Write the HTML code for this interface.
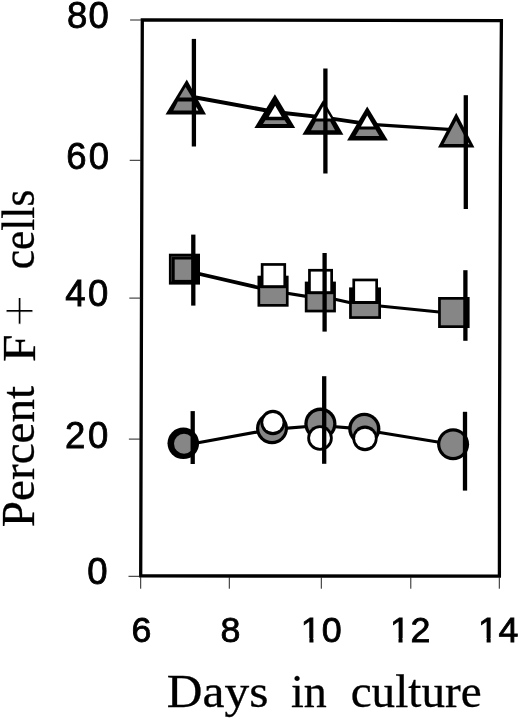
<!DOCTYPE html>
<html lang="en">
<head>
<meta charset="utf-8">
<title>Percent F + cells vs Days in culture</title>
<style>
html,body{margin:0;padding:0;background:#fff;}
body{width:520px;height:719px;overflow:hidden;}
svg{display:block;}
.sans{font-family:"Liberation Sans",Arial,Helvetica,sans-serif;fill:#000;}
.serif{font-family:"Liberation Serif","Times New Roman",Times,serif;fill:#000;}
</style>
</head>
<body>
<svg width="520" height="719" viewBox="0 0 520 719">
<rect x="0" y="0" width="520" height="719" fill="#ffffff"/>

<g id="frame" stroke="#000" fill="none">
<path d="M142.3 19.9 L501.4 20.7 L500.5 150 L499.9 310 L499.5 440 L499.4 576.2 L140.7 575.9 Z" stroke-width="3.3" stroke-linejoin="miter"/>
<line x1="130.1" y1="20.0" x2="141.3" y2="20.0" stroke-width="1" stroke="#222"/>
<line x1="129.7" y1="160.3" x2="140.9" y2="160.3" stroke-width="1" stroke="#222"/>
<line x1="129.3" y1="298.1" x2="140.5" y2="298.1" stroke-width="1" stroke="#222"/>
<line x1="128.9" y1="439.1" x2="140.1" y2="439.1" stroke-width="1" stroke="#222"/>
<line x1="128.5" y1="576.3" x2="139.7" y2="576.3" stroke-width="1" stroke="#222"/>
<line x1="140.7" y1="577" x2="140.7" y2="588.7" stroke-width="1" stroke="#222"/>
<line x1="229.3" y1="577" x2="229.3" y2="588.7" stroke-width="1" stroke="#222"/>
<line x1="321.3" y1="577" x2="321.3" y2="588.7" stroke-width="1" stroke="#222"/>
<line x1="410.8" y1="577" x2="410.8" y2="588.7" stroke-width="1" stroke="#222"/>
<line x1="499.3" y1="577" x2="499.3" y2="588.7" stroke-width="1" stroke="#222"/>
</g>
<text class="sans" font-size="36.5" stroke="#000" stroke-width="0.8" text-anchor="middle" y="28.1"><tspan x="77.25">8</tspan><tspan x="98.75">0</tspan></text>
<text class="sans" font-size="36.5" stroke="#000" stroke-width="0.8" text-anchor="middle" y="168.5"><tspan x="76.4">6</tspan><tspan x="99.0">0</tspan></text>
<text class="sans" font-size="36.5" stroke="#000" stroke-width="0.8" text-anchor="middle" y="306.4"><tspan x="75.45">4</tspan><tspan x="98.2">0</tspan></text>
<text class="sans" font-size="36.5" stroke="#000" stroke-width="0.8" text-anchor="middle" y="447.8"><tspan x="75.1">2</tspan><tspan x="98.1">0</tspan></text>
<text class="sans" font-size="36.5" stroke="#000" stroke-width="0.8" text-anchor="middle" y="584.3"><tspan x="97.5">0</tspan></text>
<text class="sans" font-size="35.8" stroke="#000" stroke-width="0.8" text-anchor="middle" y="642.3"><tspan x="141.5">6</tspan></text>
<text class="sans" font-size="35.8" stroke="#000" stroke-width="0.8" text-anchor="middle" y="642.3"><tspan x="230.4">8</tspan></text>
<text class="sans" font-size="35.8" stroke="#000" stroke-width="0.8" text-anchor="middle" y="642.3"><tspan x="310.8">1</tspan><tspan x="331.7">0</tspan></text>
<rect x="302.37" y="638.03" width="7.03" height="5.67" fill="#fff"/>
<rect x="313.46" y="638.03" width="6.75" height="5.67" fill="#fff"/>
<text class="sans" font-size="35.8" stroke="#000" stroke-width="0.8" text-anchor="middle" y="642.3"><tspan x="399.9">1</tspan><tspan x="420.35">2</tspan></text>
<rect x="391.47" y="638.03" width="7.03" height="5.67" fill="#fff"/>
<rect x="402.56" y="638.03" width="6.75" height="5.67" fill="#fff"/>
<text class="sans" font-size="35.8" stroke="#000" stroke-width="0.8" text-anchor="middle" y="642.3"><tspan x="488.0">1</tspan><tspan x="508.5">4</tspan></text>
<rect x="479.57" y="638.03" width="7.03" height="5.67" fill="#fff"/>
<rect x="490.66" y="638.03" width="6.75" height="5.67" fill="#fff"/>
<text class="serif" font-size="46" stroke="#000" stroke-width="0.3" transform="translate(166.8 706.8) scale(1.075 1)" x="0" y="0">Days</text>
<text class="serif" font-size="46" stroke="#000" stroke-width="0.3" transform="translate(291 706.8) scale(1.0 1)" x="0" y="0">in</text>
<text class="serif" font-size="46" stroke="#000" stroke-width="0.3" transform="translate(350.7 706.8) scale(1.025 1)" x="0" y="0">culture</text>
<text class="serif" font-size="46" stroke="#000" stroke-width="0.3" transform="translate(34 527.2) rotate(-90) scale(1.025 1.0)" x="0" y="0">Percent</text>
<text class="serif" font-size="46" stroke="#000" stroke-width="0.3" transform="translate(35 362) rotate(-90) scale(1.08 1.0)" x="0" y="0">F</text>
<text class="serif" font-size="46" stroke="#fff" stroke-width="0.8" transform="translate(38.8 327.2) rotate(-90) scale(1.26 1.26)" x="0" y="0">+</text>
<text class="serif" font-size="46" stroke="#000" stroke-width="0.3" transform="translate(34.3 269.3) rotate(-90) scale(0.945 1.0)" x="0" y="0">cells</text>
<g id="lines" fill="none" stroke="#000" stroke-linecap="round">
<line x1="193" y1="97" x2="275" y2="112" stroke-width="4.1"/>
<line x1="275" y1="112" x2="323" y2="117.3" stroke-width="3.8"/>
<line x1="323" y1="117.3" x2="367" y2="123.9" stroke-width="3.8"/>
<line x1="367" y1="124.2" x2="456" y2="129.8" stroke-width="3.2"/>
<line x1="184.5" y1="270.5" x2="273" y2="291" stroke-width="3.8"/>
<line x1="273" y1="291" x2="320.4" y2="298.6" stroke-width="3.2"/>
<line x1="320.4" y1="296" x2="365" y2="306" stroke-width="3.2"/>
<line x1="365" y1="304.4" x2="454" y2="313.6" stroke-width="3.0"/>
<line x1="183" y1="445.5" x2="272" y2="429.3" stroke-width="3.2"/>
<line x1="272" y1="429.3" x2="320" y2="425.5" stroke-width="3.2"/>
<line x1="320" y1="425.5" x2="364.5" y2="429.2" stroke-width="3.2"/>
<line x1="364.5" y1="430" x2="453" y2="444.6" stroke-width="3.0"/>
</g>
<g id="tri">
<polygon points="186.8,79.6 165.5,114.5 206,114.5" fill="#000"/>
<polygon points="185.6,87 179.3,97.6 192,97.6" fill="#868686"/>
<polygon points="177.9,101.4 192,101.4 192,110.5 173.3,110.5" fill="#868686"/>
<polygon points="196.2,106.7 196.2,110.6 198.3,110.6" fill="#fff"/>
<polygon points="274.9,94.3 254.4,128 295.2,128" fill="#000"/>
<polygon points="275.2,105.8 268.75,116.7 281.7,116.7" fill="#fff"/>
<polygon points="265.4,120.2 284.6,120.2 287,124 263,124" fill="#868686"/>
<polygon points="323.2,100 302.4,134.8 343.4,134.8" fill="#000"/>
<polygon points="323.3,106 316.1,118.6 331.3,118.6" fill="#fff"/>
<polygon points="315.8,121.4 330.2,121.4 335,130.3 311,130.3" fill="#868686"/>
<polygon points="367.2,106.6 347.1,140.6 387.9,140.6" fill="#000"/>
<polygon points="367.2,115.4 361,126.4 373.7,126.4" fill="#fff"/>
<polygon points="359.3,129.6 375.5,129.6 379.3,136.1 355.5,136.1" fill="#868686"/>
<polygon points="456.2,112.8 438,147.5 474.4,147.5" fill="#000"/>
<polygon points="456.2,120.5 443.6,143.9 464.5,143.9 464.5,136" fill="#868686"/>
<polygon points="468.3,142.3 468.3,144.2 469.4,144.2" fill="#fff"/>
</g>
<g id="sq">
<rect x="168.9" y="253.7" width="31.1" height="30.9" fill="#000"/>
<rect x="174.7" y="259.5" width="19.3" height="20.4" fill="#868686"/>
<path d="M171.4 281.5 V256.6 H191" fill="none" stroke="#555" stroke-width="0.6"/>
<rect x="257.5" y="275.7" width="31.1" height="31.0" fill="#000"/>
<rect x="260.2" y="288.0" width="25.7" height="16.0" fill="#868686"/>
<rect x="260.8" y="263.1" width="25.3" height="25.1" fill="#000"/>
<rect x="263.5" y="265.8" width="19.9" height="19.4" fill="#fff"/>
<rect x="304.8" y="281.6" width="31.1" height="30.8" fill="#000"/>
<rect x="307.5" y="294.0" width="25.7" height="15.7" fill="#868686"/>
<rect x="308.1" y="268.9" width="24.9" height="25.3" fill="#000"/>
<rect x="310.8" y="271.59999999999997" width="19.5" height="19.6" fill="#fff"/>
<rect x="349.1" y="287.4" width="31.9" height="31.5" fill="#000"/>
<rect x="351.8" y="303.8" width="26.5" height="12.4" fill="#868686"/>
<rect x="352.4" y="278.6" width="25.6" height="25.4" fill="#000"/>
<rect x="355.09999999999997" y="281.3" width="20.2" height="19.7" fill="#fff"/>
<rect x="438.1" y="297" width="31.5" height="31" fill="#000"/>
<rect x="440.8" y="299.7" width="24.2" height="25.6" fill="#868686"/>
</g>
<g id="circ">
<circle cx="183.3" cy="443.3" r="15.8" fill="#000"/>
<circle cx="184" cy="443.8" r="10" fill="#868686"/>
<circle cx="272" cy="428.2" r="16" fill="#000"/>
<circle cx="272" cy="428.2" r="12.8" fill="#868686"/>
<ellipse cx="272.9" cy="422.5" rx="12.5" ry="12.8" fill="#000"/>
<ellipse cx="272.9" cy="422.5" rx="9.7" ry="9.6" fill="#fff"/>
<circle cx="320.4" cy="423.7" r="16.1" fill="#000"/>
<circle cx="320.4" cy="423.7" r="12.8" fill="#868686"/>
<ellipse cx="320" cy="438" rx="12.8" ry="12.8" fill="#000"/>
<ellipse cx="320" cy="438" rx="10" ry="9.9" fill="#fff"/>
<circle cx="364.3" cy="428.8" r="16.1" fill="#000"/>
<circle cx="364.3" cy="428.8" r="12.7" fill="#868686"/>
<ellipse cx="365" cy="438.4" rx="12.6" ry="12.9" fill="#000"/>
<ellipse cx="365" cy="438.4" rx="9.9" ry="9.7" fill="#fff"/>
<circle cx="453.1" cy="444.2" r="16" fill="#000"/>
<circle cx="453.1" cy="444.2" r="12.8" fill="#868686"/>
</g>
<g id="errorbars" stroke="#000" stroke-width="4.3">
<line x1="193.9" y1="38.9" x2="193.9" y2="146.5"/>
<line x1="325.4" y1="68.5" x2="325.4" y2="173.5"/>
<line x1="465.8" y1="95.2" x2="465.8" y2="209"/>
<line x1="193.3" y1="234.6" x2="193.3" y2="305.6"/>
<line x1="324.6" y1="253" x2="324.6" y2="331.6"/>
<line x1="465.4" y1="270.2" x2="465.4" y2="340.8"/>
<line x1="192.7" y1="411.1" x2="192.7" y2="464"/>
<line x1="324.2" y1="376.2" x2="324.2" y2="463.8"/>
<line x1="465" y1="411.8" x2="465" y2="490.6"/>
</g>
</svg>
</body>
</html>
